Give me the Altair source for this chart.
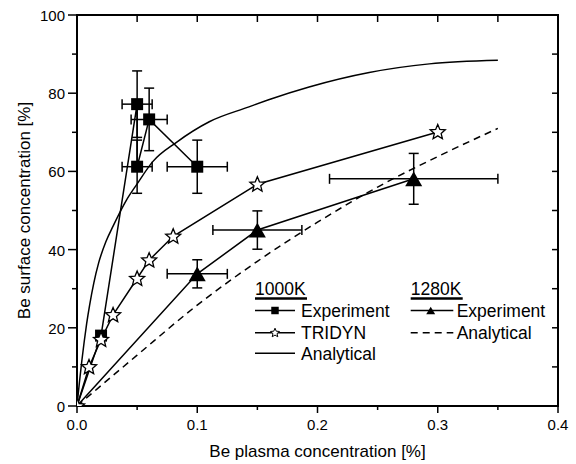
import math
import altair as alt
import pandas as pd

# ---------------- data ----------------
# 1000K experiment (squares) with error bars
exp1000_x = [0.02, 0.05, 0.05, 0.06, 0.10]
exp1000_y = [18.0, 77.2, 61.2, 73.3, 61.2]
exp1000_xerr = [0.0, 0.0125, 0.0125, 0.015, 0.025]
exp1000_yerr = [0.0, 8.5, 6.8, 8.0, 6.8]

# 1000K TRIDYN (open stars)
tridyn_x = [0.0, 0.01, 0.02, 0.03, 0.05, 0.06, 0.08, 0.15, 0.30]
tridyn_y = [0.0, 10.0, 17.0, 23.3, 32.6, 37.3, 43.4, 56.7, 70.1]

# 1000K analytical (solid curve)
ana1000_x = [0.0, 0.002, 0.004, 0.006, 0.008, 0.0105, 0.014, 0.018, 0.024, 0.03,
             0.041, 0.05, 0.063, 0.083, 0.11, 0.143, 0.16, 0.193, 0.243, 0.293, 0.35]
ana1000_y = [0.0, 6.0, 11.5, 16.5, 21.0, 25.8, 31.5, 36.6, 42.0, 46.0,
             52.6, 56.8, 62.5, 67.5, 72.7, 76.5, 78.4, 81.6, 85.3, 87.5, 88.4]

# 1280K experiment (triangles) with error bars
exp1280_x = [0.10, 0.15, 0.28]
exp1280_y = [33.8, 45.0, 58.1]
exp1280_xerr = [0.025, 0.037, 0.07]
exp1280_yerr = [3.6, 4.9, 6.5]

# 1280K analytical (dashed curve)
ana1280_x = [0.0, 0.05, 0.10, 0.15, 0.20, 0.25, 0.30, 0.35]
ana1280_y = [0.0, 13.0, 25.8, 37.0, 47.0, 56.0, 63.8, 71.0]

# axis ticks and labels
x_major = [0.0, 0.1, 0.2, 0.3, 0.4]
x_labels = ["0.0", "0.1", "0.2", "0.3", "0.4"]
x_minor = [0.05, 0.15, 0.25, 0.35]
x_top = [0.05, 0.1, 0.15, 0.2, 0.25, 0.3, 0.35]
y_major = [0, 20, 40, 60, 80, 100]
y_labels = ["0", "20", "40", "60", "80", "100"]
y_minor = [10, 30, 50, 70, 90]
y_right = [10, 20, 30, 40, 50, 60, 70, 80, 90]
x_title = "Be plasma concentration [%]"
y_title = "Be surface concentration [%]"

# ---------------- chart ----------------
W, H = 481, 391
FONT = "Liberation Sans"
xs = alt.Scale(domain=[0, 0.4], nice=False, zero=False)
ys = alt.Scale(domain=[0, 100], nice=False, zero=False)

# five-pointed star symbol as an SVG path in the unit square
_pts = []
for k in range(10):
    r = 1.0 if k % 2 == 0 else 0.45
    a = math.radians(-90 + 36 * k)
    _pts.append(f"{r * math.cos(a):.4f},{r * math.sin(a) + 0.05:.4f}")
STAR = "M" + "L".join(_pts) + "Z"


def line_df(xv, yv):
    return pd.DataFrame({"x": xv, "y": yv, "i": list(range(len(xv)))})


def err_df(xv, yv, xe, ye):
    return pd.DataFrame({"x": xv, "y": yv, "xe": xe, "ye": ye})


def XF(f):
    return alt.X(f, scale=xs, axis=None)


def YF(f):
    return alt.Y(f, scale=ys, axis=None)


X = XF("x:Q")
Y = YF("y:Q")

ana1000 = alt.Chart(line_df(ana1000_x, ana1000_y)).mark_line(
    color="black", strokeWidth=1.5, interpolate="monotone").encode(x=X, y=Y, order="i:Q")
ana1280 = alt.Chart(line_df(ana1280_x, ana1280_y)).mark_line(
    color="black", strokeWidth=1.5, strokeDash=[7, 5], interpolate="monotone").encode(
    x=X, y=Y, order="i:Q")
exp1000_line = alt.Chart(line_df([0.0] + exp1000_x, [0.0] + exp1000_y)).mark_line(
    color="black", strokeWidth=1.5).encode(x=X, y=Y, order="i:Q")
exp1280_line = alt.Chart(line_df([0.0] + exp1280_x, [0.0] + exp1280_y)).mark_line(
    color="black", strokeWidth=1.5).encode(x=X, y=Y, order="i:Q")
tridyn_line = alt.Chart(line_df(tridyn_x, tridyn_y)).mark_line(
    color="black", strokeWidth=1.5).encode(x=X, y=Y, order="i:Q")


def err_layers(df):
    base = alt.Chart(df).transform_filter("datum.xe > 0").transform_calculate(
        xl="datum.x - datum.xe", xh="datum.x + datum.xe",
        yl="datum.y - datum.ye", yh="datum.y + datum.ye")
    vbar = base.mark_rule(color="black", strokeWidth=1.5).encode(
        x=X, y=YF("yl:Q"), y2="yh:Q")
    hbar = base.mark_rule(color="black", strokeWidth=1.5).encode(
        x=XF("xl:Q"), x2="xh:Q", y=Y)
    cap = dict(color="black", size=10, thickness=1.5, opacity=1)
    c1 = base.mark_tick(orient="horizontal", **cap).encode(x=X, y=YF("yl:Q"))
    c2 = base.mark_tick(orient="horizontal", **cap).encode(x=X, y=YF("yh:Q"))
    c3 = base.mark_tick(orient="vertical", **cap).encode(x=XF("xl:Q"), y=Y)
    c4 = base.mark_tick(orient="vertical", **cap).encode(x=XF("xh:Q"), y=Y)
    return [vbar, hbar, c1, c2, c3, c4]


err1000 = err_layers(err_df(exp1000_x, exp1000_y, exp1000_xerr, exp1000_yerr))
err1280 = err_layers(err_df(exp1280_x, exp1280_y, exp1280_xerr, exp1280_yerr))

squares = alt.Chart(line_df(exp1000_x, exp1000_y)).mark_point(
    shape="square", filled=True, size=144, color="black", opacity=1).encode(x=X, y=Y)
triangles = alt.Chart(line_df(exp1280_x, exp1280_y)).mark_point(
    shape="triangle-up", filled=True, size=290, color="black", opacity=1).encode(x=X, y=Y)
stars = alt.Chart(line_df(tridyn_x, tridyn_y)).mark_point(
    shape=STAR, filled=True, fill="white", stroke="black",
    strokeWidth=1.3, size=250, opacity=1, clip=True).encode(x=X, y=Y)

# ---------------- axes drawn from the tick lists ----------------
def tick_rules(vals, horizontal, a, b, width=1.5):
    df = pd.DataFrame({"v": vals})
    ch = alt.Chart(df).mark_rule(color="black", strokeWidth=width)
    if horizontal:  # ticks on x axis (vertical little lines)
        return ch.encode(x=XF("v:Q"), y=alt.value(a), y2=alt.value(b))
    return ch.encode(y=YF("v:Q"), x=alt.value(a), x2=alt.value(b))


bottom_major = tick_rules(x_major, True, H, H + 7)
bottom_minor = tick_rules(x_minor, True, H, H + 4)
left_major = tick_rules(y_major, False, -9, 0)
left_minor = tick_rules(y_minor, False, -5, 0)
top_ticks = tick_rules(x_top, True, 0, 7)
right_ticks = tick_rules(y_right, False, W - 6, W)

x_lab = alt.Chart(pd.DataFrame({"v": x_major, "t": x_labels})).mark_text(
    font=FONT, fontSize=15, color="black", align="center", baseline="alphabetic").encode(
    x=XF("v:Q"), y=alt.value(H + 24), text="t:N")
y_lab = alt.Chart(pd.DataFrame({"v": y_major, "t": y_labels})).mark_text(
    font=FONT, fontSize=15, color="black", align="right", baseline="middle", dy=1).encode(
    y=YF("v:Q"), x=alt.value(-12), text="t:N")

one = pd.DataFrame({"a": [0]})
x_tit = alt.Chart(one).mark_text(text=x_title, font=FONT, fontSize=17, color="black",
                                 align="center", baseline="alphabetic").encode(
    x=alt.value(W / 2), y=alt.value(H + 51))
y_tit = alt.Chart(one).mark_text(text=y_title, font=FONT, fontSize=17, color="black",
                                 align="center", baseline="middle", angle=270).encode(
    x=alt.value(-52), y=alt.value(H / 2))

# ---------------- legend (drawn in plot pixel space) ----------------
LFS = 17.5


def ltext(txt, px, py):
    return alt.Chart(one).mark_text(text=txt, align="left", baseline="alphabetic",
                                    fontSize=LFS, font=FONT, color="black").encode(
        x=alt.value(px), y=alt.value(py))


def lrule(x1, x2, py, width=1.5, dash=None):
    kw = dict(color="black", strokeWidth=width)
    if dash:
        kw["strokeDash"] = dash
    return alt.Chart(one).mark_rule(**kw).encode(
        x=alt.value(x1), x2=alt.value(x2), y=alt.value(py))


c1x, c2x = 178, 333.7
r0, r1, r2, r3 = 280, 295.5, 317.7, 338.3
legend = [
    ltext("1000K", c1x, r0),
    lrule(c1x, c1x + 52, r0 + 3.5, width=2.5),
    lrule(c1x, c1x + 40, r1),
    alt.Chart(one).mark_point(shape="square", filled=True, size=56, color="black",
                              opacity=1).encode(x=alt.value(c1x + 20), y=alt.value(r1)),
    ltext("Experiment", c1x + 46, r1 + 6.2),
    lrule(c1x, c1x + 40, r2),
    alt.Chart(one).mark_point(shape=STAR, filled=True, fill="white",
                              stroke="black", strokeWidth=1, size=90, opacity=1).encode(
        x=alt.value(c1x + 20), y=alt.value(r2)),
    ltext("TRIDYN", c1x + 46, r2 + 6.2),
    lrule(c1x, c1x + 40, r3),
    ltext("Analytical", c1x + 46, r3 + 6.2),
    ltext("1280K", c2x, r0),
    lrule(c2x, c2x + 52, r0 + 3.5, width=2.5),
    lrule(c2x, c2x + 42.6, r1),
    alt.Chart(one).mark_point(shape="triangle-up", filled=True, size=80, color="black",
                              opacity=1).encode(x=alt.value(c2x + 20), y=alt.value(r1)),
    ltext("Experiment", c2x + 46, r1 + 6.2),
    lrule(c2x, c2x + 42.6, r2, dash=[7, 5]),
    ltext("Analytical", c2x + 46, r2 + 6.2),
]

chart = alt.layer(
    ana1000, ana1280, exp1000_line, exp1280_line, tridyn_line,
    *err1000, *err1280, squares, triangles, stars,
    bottom_major, bottom_minor, left_major, left_minor, top_ticks, right_ticks,
    x_lab, y_lab, x_tit, y_tit,
    *legend
).properties(
    width=W, height=H,
    padding={"left": 77, "top": 15, "right": 18, "bottom": 58},
    autosize=alt.AutoSizeParams(type="none"),
    background="white",
).configure_view(stroke="black", strokeWidth=2)

chart.save("out.html", embed_options={"renderer": "svg", "actions": False})
